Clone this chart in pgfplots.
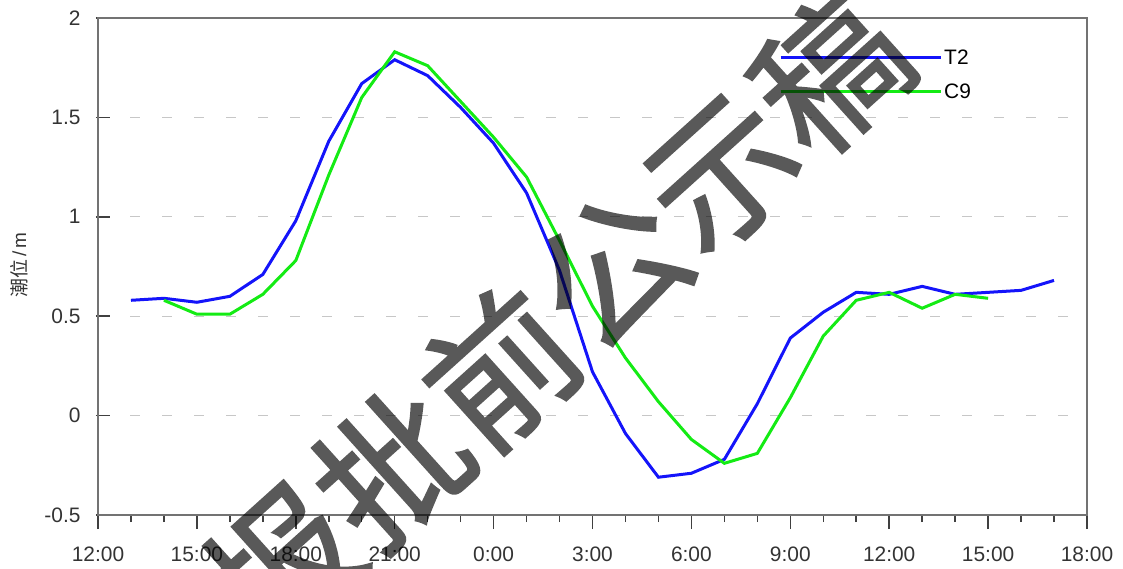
\documentclass[border=0pt]{standalone}
\usepackage{fontspec}
\setmainfont{Liberation Sans}
\newfontfamily\cjk{Noto Sans CJK SC}
\newfontfamily\cjkw[FakeBold=1.3]{Noto Sans CJK SC}
\usepackage{pgfplots}
\pgfplotsset{compat=1.18}
\definecolor{tblue}{RGB}{20,20,250}
\definecolor{tgreen}{RGB}{20,235,20}
\begin{document}
\begin{tikzpicture}
\useasboundingbox (-98bp,-54bp) rectangle (1025bp,515bp);
\begin{axis}[
  at={(0,0)}, anchor=south west,
  scale only axis, width=989bp, height=497bp,
  xmin=12, xmax=42, ymin=-0.5, ymax=2,
  xtick={12,15,...,42},
  xticklabels={12:00,15:00,18:00,21:00,0:00,3:00,6:00,9:00,12:00,15:00,18:00},
  minor x tick num=2,
  ytick={-0.5,0,0.5,1,1.5,2},
  yticklabels={-0.5,0,0.5,1,1.5,2},
  tick pos=left,
  tick align=outside,
  major tick length=14bp,
  minor tick length=7bp,
  y tick style={xshift=12bp},
  every tick/.style={black!75, line width=1.5bp},
  tick label style={font=\fontsize{21}{24}\selectfont, text=black!80},
  xticklabel style={yshift=-14bp},
  yticklabel style={xshift=0bp},
  axis line style={line width=2.5bp, black!55},
  ymajorgrids,
  grid style={dashed, dash pattern=on 10bp off 22bp, line width=1.2bp, black!22},
  legend style={draw=none, fill=none, at={(0.6886,0.941)}, anchor=north west,
    font=\fontsize{21}{24}\selectfont, row sep=14bp, inner sep=0pt},
  legend cell align=left,
  legend image code/.code={\draw[#1, line width=3bp] (0bp,0bp) -- (160bp,0bp);},
]
\addplot[tblue, line width=3bp] coordinates {
(13,0.58) (14,0.59) (15,0.57) (16,0.60) (17,0.71) (18,0.98) (19,1.38) (20,1.67)
(21,1.79) (22,1.71) (23,1.55) (24,1.37) (25,1.12) (26,0.73) (27,0.22) (28,-0.09)
(29,-0.31) (30,-0.29) (31,-0.22) (32,0.06) (33,0.39) (34,0.52) (35,0.62) (36,0.61)
(37,0.65) (38,0.61) (39,0.62) (40,0.63) (41,0.68)};
\addlegendentry{T2}
\addplot[tgreen, line width=3bp] coordinates {
(14,0.58) (15,0.51) (16,0.51) (17,0.61) (18,0.78) (19,1.21) (20,1.60) (21,1.83)
(22,1.76) (23,1.58) (24,1.40) (25,1.20) (26,0.88) (27,0.55) (28,0.29) (29,0.07)
(30,-0.12) (31,-0.24) (32,-0.19) (33,0.09) (34,0.40) (35,0.58) (36,0.62) (37,0.54)
(38,0.61) (39,0.59)};
\addlegendentry{C9}
\end{axis}
\node[rotate=90, font=\fontsize{19}{21}\selectfont, text=black!80] at (-79bp,250bp) {{\cjk 潮位}\,/\,m};
\begin{scope}[transparency group, opacity=0.65]
\node[rotate=42, text=black, font=\cjkw\fontsize{148}{148}\selectfont] at (458bp,196bp) {报批前公示稿};
\end{scope}
\end{tikzpicture}
\end{document}
